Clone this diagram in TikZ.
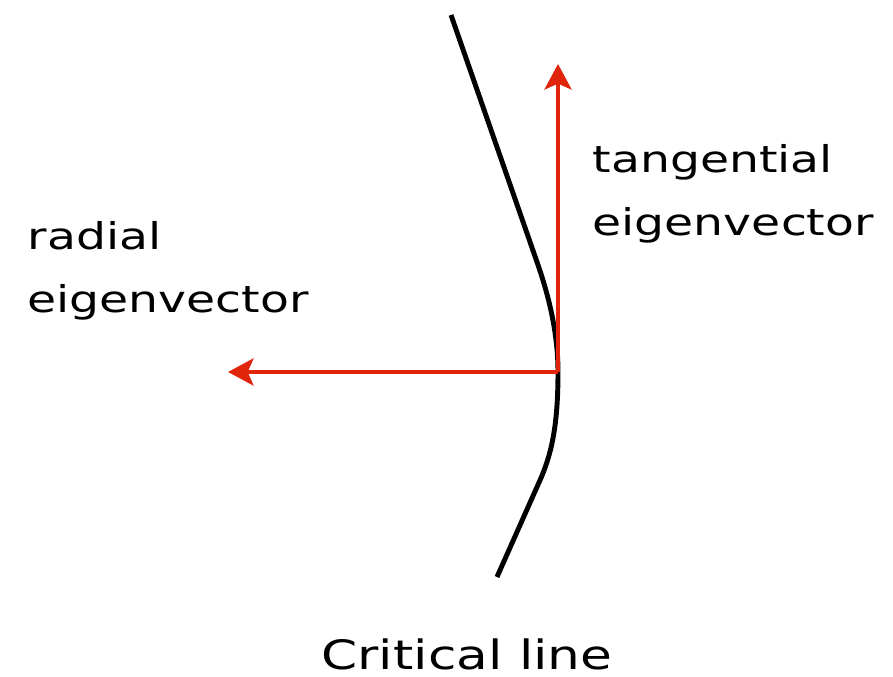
\documentclass[tikz,border=0pt]{standalone}
\usepackage{fontspec}
\setmainfont[FakeStretch=1.28]{DejaVu Sans}
\usepackage{xcolor}
\usepackage{tikz}
\usetikzlibrary{arrows.meta, positioning}

\definecolor{vecred}{RGB}{225,37,10}

\begin{document}
\begin{tikzpicture}[
    x=0.01cm, y=-0.01cm,
    crit/.style={line width=1.4pt, black, line cap=butt},
    eigvec/.style={-{Stealth[length=7.2pt, width=7.6pt, inset=1.6pt]}, line width=1.4pt, vecred},
    lbl/.style={font=\fontsize{10.5}{18}\selectfont, align=left, inner sep=0pt},
]
\useasboundingbox (0,0) rectangle (893,677);

% CRITICAL LINE
\coordinate (ctop) at (451,15);
\coordinate (o) at (558,372);
\coordinate (cbot) at (497,577);
\draw[crit] (ctop) -- (537,262) .. controls (551,302) and (558,338) .. (o)
    .. controls (558,420) and (553,450) .. (541,478) -- (cbot);

% EIGENVECTORS
\coordinate (radtip) at (228,372);
\coordinate (tantip) at (558,64);
\draw[eigvec] (o) -- (radtip);
\draw[eigvec] (o) -- (tantip);

% LABELS
\node[lbl, anchor=west] (radlbl) at (27,271) {radial\\eigenvector};
\node[lbl, anchor=west] (tanlbl) at (592,194) {tangential\\eigenvector};
\node[lbl, font=\fontsize{11.5}{18}\selectfont] (critlbl) at (467,654) {Critical line};

\end{tikzpicture}
\end{document}
